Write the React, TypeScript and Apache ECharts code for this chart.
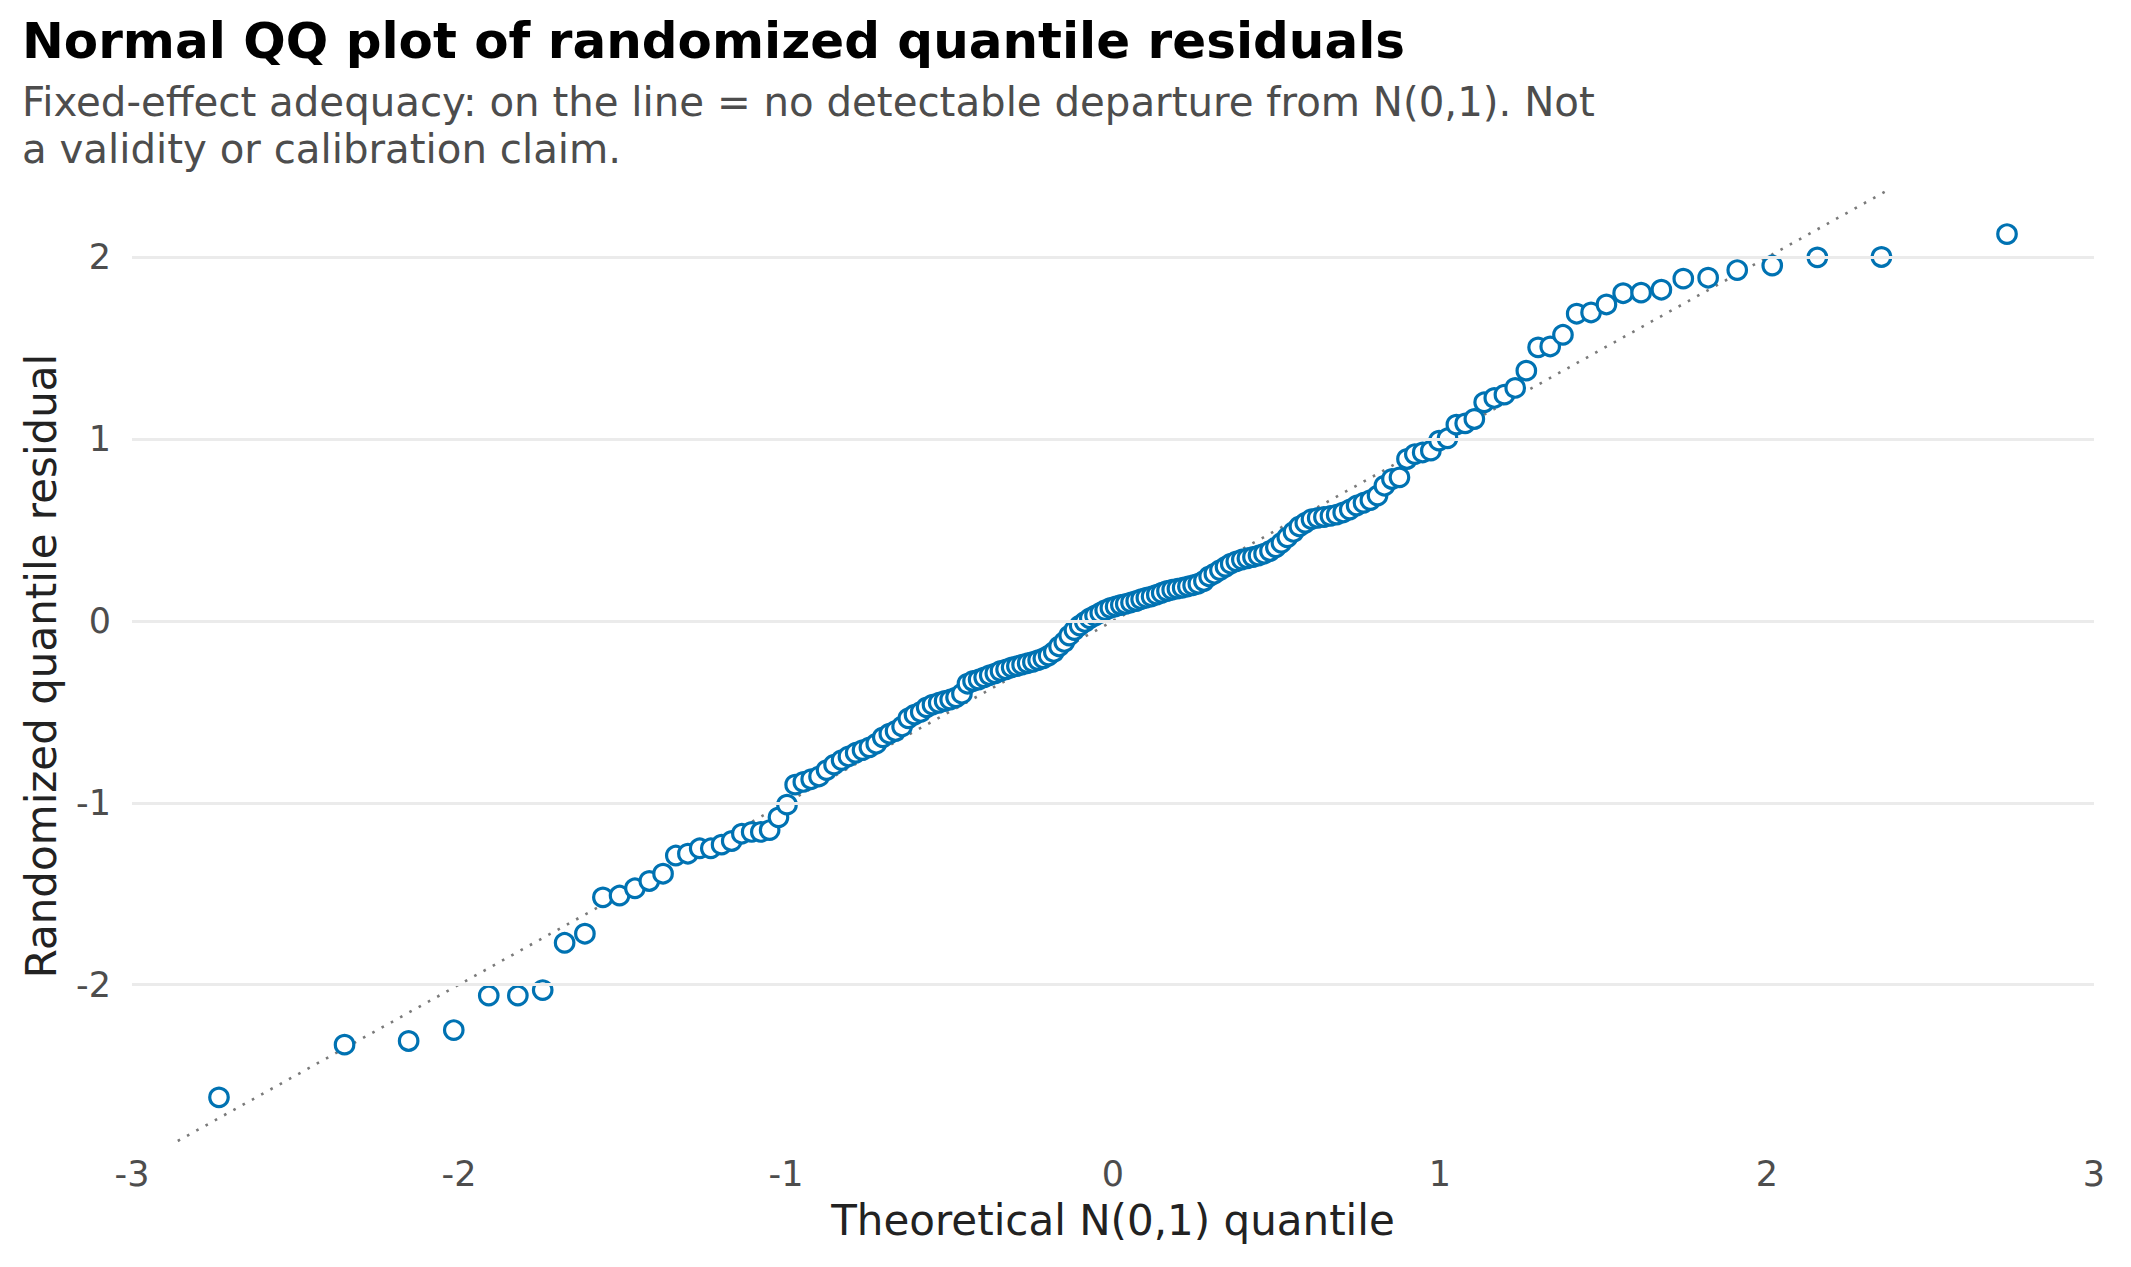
import React, { useEffect, useRef } from "react";
import * as echarts from "echarts";

// Theoretical N(0,1) quantiles (ppoints, n = 160)
const theoreticalQuantile: number[] = [
  -2.734, -2.350, -2.154, -2.016, -1.909, -1.820, -1.744, -1.677, -1.615, -1.560,
  -1.509, -1.462, -1.418, -1.376, -1.337, -1.300, -1.264, -1.230, -1.197, -1.166,
  -1.135, -1.105, -1.077, -1.050, -1.023, -0.997, -0.972, -0.947, -0.923, -0.899,
  -0.876, -0.853, -0.830, -0.809, -0.787, -0.766, -0.745, -0.724, -0.704, -0.684,
  -0.665, -0.645, -0.626, -0.607, -0.588, -0.570, -0.552, -0.533, -0.515, -0.498,
  -0.480, -0.462, -0.445, -0.428, -0.411, -0.394, -0.377, -0.360, -0.344, -0.327,
  -0.310, -0.294, -0.278, -0.261, -0.245, -0.229, -0.213, -0.197, -0.181, -0.165,
  -0.149, -0.134, -0.118, -0.102, -0.086, -0.071, -0.055, -0.039, -0.024, -0.008,
  0.008, 0.024, 0.039, 0.055, 0.071, 0.086, 0.102, 0.118, 0.134, 0.149,
  0.165, 0.181, 0.197, 0.213, 0.229, 0.245, 0.261, 0.278, 0.294, 0.310,
  0.327, 0.344, 0.360, 0.377, 0.394, 0.411, 0.428, 0.445, 0.462, 0.480,
  0.498, 0.515, 0.533, 0.552, 0.570, 0.588, 0.607, 0.626, 0.645, 0.665,
  0.684, 0.704, 0.724, 0.745, 0.766, 0.787, 0.809, 0.830, 0.853, 0.876,
  0.899, 0.923, 0.947, 0.972, 0.997, 1.023, 1.050, 1.077, 1.105, 1.135,
  1.166, 1.197, 1.230, 1.264, 1.300, 1.337, 1.376, 1.418, 1.462, 1.509,
  1.560, 1.615, 1.677, 1.744, 1.820, 1.909, 2.016, 2.154, 2.350, 2.734,
];

// Sorted randomized quantile residuals
const residual: number[] = [
  -2.62, -2.33, -2.31, -2.25, -2.06, -2.06, -2.03, -1.77, -1.72, -1.52,
  -1.51, -1.47, -1.43, -1.39, -1.29, -1.28, -1.25, -1.25, -1.23, -1.21,
  -1.17, -1.16, -1.16, -1.15, -1.08, -1.01, -0.90, -0.885, -0.87, -0.855,
  -0.82, -0.79, -0.765, -0.745, -0.725, -0.71, -0.695, -0.675, -0.64, -0.62,
  -0.605, -0.58, -0.535, -0.515, -0.50, -0.475, -0.46, -0.45, -0.44, -0.432,
  -0.42, -0.40, -0.345, -0.33, -0.322, -0.31, -0.298, -0.288, -0.275, -0.266,
  -0.255, -0.248, -0.24, -0.232, -0.225, -0.215, -0.205, -0.19, -0.17, -0.14,
  -0.115, -0.08, -0.05, -0.025, -0.005, 0.015, 0.03, 0.045, 0.06, 0.072,
  0.08, 0.088, 0.094, 0.102, 0.11, 0.12, 0.128, 0.135, 0.145, 0.155,
  0.165, 0.172, 0.178, 0.183, 0.19, 0.197, 0.205, 0.22, 0.245, 0.26,
  0.28, 0.298, 0.315, 0.328, 0.338, 0.345, 0.352, 0.36, 0.37, 0.385,
  0.405, 0.43, 0.46, 0.49, 0.52, 0.54, 0.56, 0.567, 0.572, 0.578,
  0.585, 0.597, 0.613, 0.635, 0.65, 0.665, 0.69, 0.744, 0.781, 0.79,
  0.891, 0.918, 0.927, 0.937, 0.992, 1.005, 1.08, 1.087, 1.111, 1.203,
  1.227, 1.245, 1.282, 1.377, 1.505, 1.51, 1.574, 1.69, 1.697, 1.741,
  1.803, 1.806, 1.822, 1.883, 1.888, 1.93, 1.955, 2.0, 2.002, 2.128,
];

const xTicks: number[] = [-3, -2, -1, 0, 1, 2, 3];
const yTicks: number[] = [-2, -1, 0, 1, 2];
const xLimits: number[] = [-3, 3];
const yLimits: number[] = [-2.86, 2.365];

const TITLE = "Normal QQ plot of randomized quantile residuals";
const SUBTITLE =
  "Fixed-effect adequacy: on the line = no detectable departure from N(0,1). Not\na validity or calibration claim.";
const X_NAME = "Theoretical N(0,1) quantile";
const Y_NAME = "Randomized quantile residual";

const FONT = "DejaVu Sans";

export default function App() {
  const ref = useRef<HTMLDivElement>(null);

  useEffect(() => {
    if (!ref.current) return;
    const chart = echarts.init(ref.current, undefined, { renderer: "svg" });
    const points = theoreticalQuantile.map((x, i) => [x, residual[i]]);
    const refLine = [
      [yLimits[0], yLimits[0]],
      [yLimits[1], yLimits[1]],
    ];
    chart.setOption({
      animation: false,
      backgroundColor: "#ffffff",
      textStyle: { fontFamily: FONT },
      title: {
        text: TITLE,
        subtext: SUBTITLE,
        left: 22,
        top: 12,
        padding: 0,
        itemGap: 9,
        textStyle: {
          fontFamily: FONT,
          fontSize: 50,
          fontWeight: "bold",
          color: "#000000",
          lineHeight: 58,
        },
        subtextStyle: {
          fontFamily: FONT,
          fontSize: 40.3,
          color: "#4d4d4d",
          lineHeight: 47,
        },
      },
      grid: { left: 132, right: 37, top: 191, bottom: 126, containLabel: false },
      xAxis: {
        type: "value",
        min: xLimits[0],
        max: xLimits[1],
        interval: 1,
        name: X_NAME,
        nameLocation: "middle",
        nameGap: 58,
        nameTextStyle: { fontFamily: FONT, fontSize: 42, color: "#222222", lineHeight: 42 },
        axisLine: { show: false },
        axisTick: { show: false },
        splitLine: { show: false },
        axisLabel: {
          fontFamily: FONT,
          fontSize: 35,
          color: "#4d4d4d",
          margin: 15,
          formatter: (v: number) => (xTicks.includes(v) ? String(v) : ""),
        },
      },
      yAxis: {
        type: "value",
        min: yLimits[0],
        max: yLimits[1],
        name: Y_NAME,
        nameLocation: "middle",
        nameRotate: 90,
        nameGap: 70,
        nameTextStyle: { fontFamily: FONT, fontSize: 42, color: "#222222", lineHeight: 42 },
        axisLine: { show: false },
        axisTick: { show: false },
        splitLine: { show: false },
        axisLabel: {
          fontFamily: FONT,
          fontSize: 35,
          color: "#4d4d4d",
          margin: 21,
          showMinLabel: false,
          showMaxLabel: false,
          formatter: (v: number) => (yTicks.includes(v) ? String(v) : ""),
        },
      },
      series: [
        {
          type: "line",
          data: [],
          silent: true,
          z: 1,
          markLine: {
            silent: true,
            symbol: ["none", "none"],
            label: { show: false },
            emphasis: { disabled: true },
            lineStyle: { color: "#ebebeb", width: 3, type: "solid" },
            data: yTicks.map((v) => ({ yAxis: v })),
          },
        },
        {
          type: "line",
          data: refLine,
          showSymbol: false,
          silent: true,
          z: 2,
          lineStyle: { color: "#7a7a7a", width: 2.6, type: [2.6, 8] },
        },
        {
          type: "scatter",
          data: points,
          z: 3,
          symbol: "circle",
          symbolSize: 18.5,
          itemStyle: { color: "#ffffff", borderColor: "#0072B2", borderWidth: 3.2, opacity: 1 },
          emphasis: { disabled: true },
        },
      ],
    });
    return () => chart.dispose();
  }, []);

  return (
    <div
      ref={ref}
      style={{ position: "fixed", left: 0, top: 0, width: 2131, height: 1267, background: "#fff" }}
    />
  );
}
